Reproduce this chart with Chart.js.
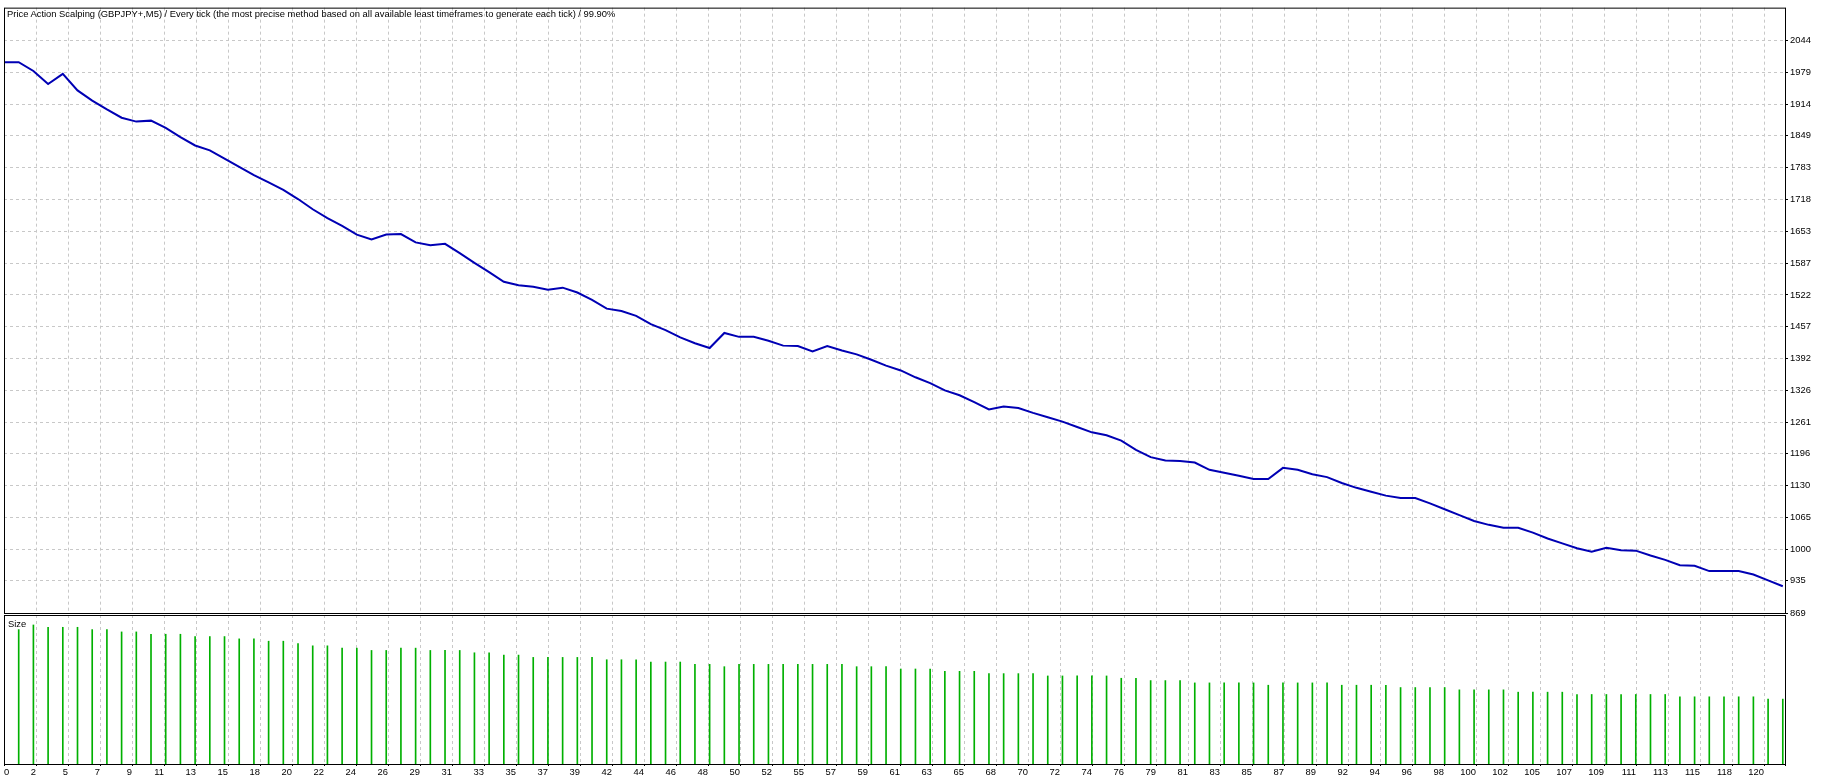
<!DOCTYPE html>
<html>
<head>
<meta charset="utf-8">
<title>Price Action Scalping - tester graph</title>
<script src="https://cdn.jsdelivr.net/npm/chart.js@4.4.0/dist/chart.umd.min.js"></script>
<style>
  html, body { margin: 0; padding: 0; background: #fff; }
  body { width: 1830px; height: 782px; position: relative; overflow: hidden; font-family: "Liberation Sans", Arial, sans-serif; }
  canvas { position: absolute; left: 0; }
  #balance { top: 0; }
  #size { top: 600px; }
  .caption { position: absolute; font-size: 9.4px; line-height: 11px; color: #000; white-space: nowrap; }
  #title { left: 7px; top: 8px; }
  #sizeLabel { left: 8px; top: 618px; }
</style>
</head>
<body>
<canvas id="balance" width="1830" height="630"></canvas>
<canvas id="size" width="1830" height="182"></canvas>
<div id="title" class="caption">Price Action Scalping (GBPJPY+,M5) / Every tick (the most precise method based on all available least timeframes to generate each tick) / 99.90%</div>
<div id="sizeLabel" class="caption">Size</div>
<script>
/* balance after each trade, trade 0 = deposit */
const balance = [
    2000, 2000, 1982, 1955, 1976, 1942, 1921, 1903, 1886, 1878,
    1880, 1865, 1846, 1829, 1819, 1802, 1785, 1768, 1753, 1738,
    1719, 1698, 1680, 1664, 1646, 1636, 1646, 1647, 1630, 1624,
    1627, 1608, 1588, 1569, 1549, 1542, 1539, 1533, 1537, 1527,
    1512, 1494, 1489, 1479, 1462, 1450, 1435, 1423, 1413, 1444,
    1436, 1436, 1428, 1418, 1417, 1406, 1417, 1408, 1400, 1389,
    1377, 1367, 1353, 1341, 1326, 1316, 1302, 1287, 1293, 1290,
    1280, 1271, 1262, 1251, 1240, 1234, 1223, 1204, 1189, 1182,
    1181, 1178, 1163, 1157, 1151, 1144, 1144, 1167, 1163, 1154,
    1148, 1136, 1126, 1118, 1110, 1105, 1105, 1094, 1082, 1070,
    1058, 1050, 1044, 1044, 1034, 1022, 1012, 1002, 995, 1003,
    998, 997, 987, 978, 967, 966, 955, 955, 955, 948,
    936, 924
]

/* lot size of trades 1..121 */
const sizes = [
    0.58, 0.60, 0.59, 0.59, 0.59, 0.58, 0.58, 0.57, 0.57, 0.56,
    0.56, 0.56, 0.55, 0.55, 0.55, 0.54, 0.54, 0.53, 0.53, 0.52,
    0.51, 0.51, 0.50, 0.50, 0.49, 0.49, 0.50, 0.50, 0.49, 0.49,
    0.49, 0.48, 0.48, 0.47, 0.47, 0.46, 0.46, 0.46, 0.46, 0.46,
    0.45, 0.45, 0.45, 0.44, 0.44, 0.44, 0.43, 0.43, 0.42, 0.43,
    0.43, 0.43, 0.43, 0.43, 0.43, 0.43, 0.43, 0.42, 0.42, 0.42,
    0.41, 0.41, 0.41, 0.40, 0.40, 0.40, 0.39, 0.39, 0.39, 0.39,
    0.38, 0.38, 0.38, 0.38, 0.38, 0.37, 0.37, 0.36, 0.36, 0.36,
    0.35, 0.35, 0.35, 0.35, 0.35, 0.34, 0.35, 0.35, 0.35, 0.35,
    0.34, 0.34, 0.34, 0.34, 0.33, 0.33, 0.33, 0.33, 0.32, 0.32,
    0.32, 0.32, 0.31, 0.31, 0.31, 0.31, 0.30, 0.30, 0.30, 0.30,
    0.30, 0.30, 0.30, 0.29, 0.29, 0.29, 0.29, 0.29, 0.29, 0.28,
    0.28
]

const xTickLabels = [
    "0", "2", "5", "7", "9", "11", "13", "15", "18", "20",
    "22", "24", "26", "29", "31", "33", "35", "37", "39", "42",
    "44", "46", "48", "50", "52", "55", "57", "59", "61", "63",
    "65", "68", "70", "72", "74", "76", "79", "81", "83", "85",
    "87", "89", "92", "94", "96", "98", "100", "102", "105", "107",
    "109", "111", "113", "115", "118", "120"
]

const yTickLabels = [
    "869", "935", "1000", "1065", "1130", "1196", "1261", "1326", "1392", "1457",
    "1522", "1587", "1653", "1718", "1783", "1849", "1914", "1979", "2044"
]

const X_MAX = 121.15
const Y_MIN = 869
const Y_MAX = 2112
const SIZE_MAX = 0.643

const GRID_PX = 32
const GRID_COLOR = "#c8c8c8"
const DASH = [3, 3]
const FONT = { family: "Liberation Sans", size: 9.4 }


/* vertical grid every 32 px like the tester window, plus the right edge */
const gridTicks = (scale) => {
    const perPx = (scale.max - scale.min) / scale.width
    const step = GRID_PX * perPx
    const ticks = []
    for (let k = 0; k < xTickLabels.length; k++) {
        ticks.push({ value: scale.min + k * step })
    }
    ticks.push({ value: scale.max })
    scale.ticks = ticks
}


/* black frame round each panel */
const frame = {
    id: "frame",
    afterDatasetsDraw(chart) {
        const a = chart.chartArea
        const ctx = chart.ctx
        ctx.save()
        ctx.strokeStyle = "#000"
        ctx.lineWidth = 1
        ctx.strokeRect(a.left + 0.5, a.top + 0.5, a.right - a.left, a.bottom - a.top)
        ctx.restore()
    }
}

const common = {
    responsive: false,
    animation: false,
    devicePixelRatio: 1,
    plugins: { legend: { display: false }, tooltip: { enabled: false }, title: { display: false } }
}


/* balance panel */
new Chart(document.querySelector("#balance"), {
    type: "line",
    data: {
        datasets: [{
            data: balance.map((v, i) => ({ x: i, y: v })),
            borderColor: "#0000b4",
            borderWidth: 2,
            pointRadius: 0,
            tension: 0
        }]
    },
    options: {
        ...common,
        layout: { padding: { left: 4, top: 4, right: 0, bottom: 0 } },
        scales: {
            x: {
                type: "linear",
                min: 0,
                max: X_MAX,
                offset: false,
                afterBuildTicks: gridTicks,
                afterFit: (s) => { s.height = 17 },
                ticks: { display: false },
                grid: { color: GRID_COLOR, drawTicks: false, offset: false },
                border: { display: false, dash: DASH }
            },
            y: {
                position: "right",
                min: Y_MIN,
                max: Y_MAX,
                afterBuildTicks: (s) => { s.ticks = yTickLabels.map(t => ({ value: Number(t) })) },
                afterFit: (s) => { s.width = 45 },
                ticks: {
                    color: "#000",
                    font: FONT,
                    padding: 2,
                    callback: (v, i) => yTickLabels[i]
                },
                grid: { color: GRID_COLOR, tickColor: "#000", tickLength: 3 },
                border: { display: false, dash: DASH }
            }
        }
    },
    plugins: [frame]
})


/* lot size panel */
new Chart(document.querySelector("#size"), {
    type: "bar",
    data: {
        datasets: [{
            data: sizes.map((v, i) => ({ x: i + 1, y: v })),
            backgroundColor: "#00b000",
            borderWidth: 0,
            barThickness: 1
        }]
    },
    options: {
        ...common,
        layout: { padding: { left: 4, top: 15, right: 0, bottom: 0 } },
        scales: {
            x: {
                type: "linear",
                min: 0,
                max: X_MAX,
                offset: false,
                weight: 1,
                afterBuildTicks: gridTicks,
                afterFit: (s) => { s.height = 18 },
                ticks: {
                    color: "#000",
                    font: FONT,
                    align: "end",
                    padding: 1,
                    autoSkip: false,
                    maxRotation: 0,
                    minRotation: 0,
                    callback: (v, i) => (i > 0 && i < xTickLabels.length) ? xTickLabels[i] : ""
                },
                grid: { color: GRID_COLOR, tickColor: "#000", tickLength: 2, offset: false },
                border: { display: false, dash: DASH }
            },
            /* the first label sits inside the left edge, so it gets its own axis */
            x0: {
                type: "linear",
                position: "bottom",
                min: 0,
                max: X_MAX,
                offset: false,
                weight: 0,
                afterBuildTicks: (s) => { s.ticks = [{ value: 0 }] },
                afterFit: (s) => { s.height = 0 },
                ticks: {
                    color: "#000",
                    font: FONT,
                    align: "start",
                    mirror: true,
                    padding: -14.3,
                    autoSkip: false,
                    maxRotation: 0,
                    callback: () => xTickLabels[0]
                },
                grid: { display: false, offset: false, tickLength: 2 },
                border: { display: false }
            },
            y: {
                position: "right",
                min: 0,
                max: SIZE_MAX,
                afterFit: (s) => { s.width = 45 },
                ticks: { display: false },
                grid: { display: false },
                border: { display: false }
            }
        }
    },
    plugins: [frame]
})
</script>
</body>
</html>
